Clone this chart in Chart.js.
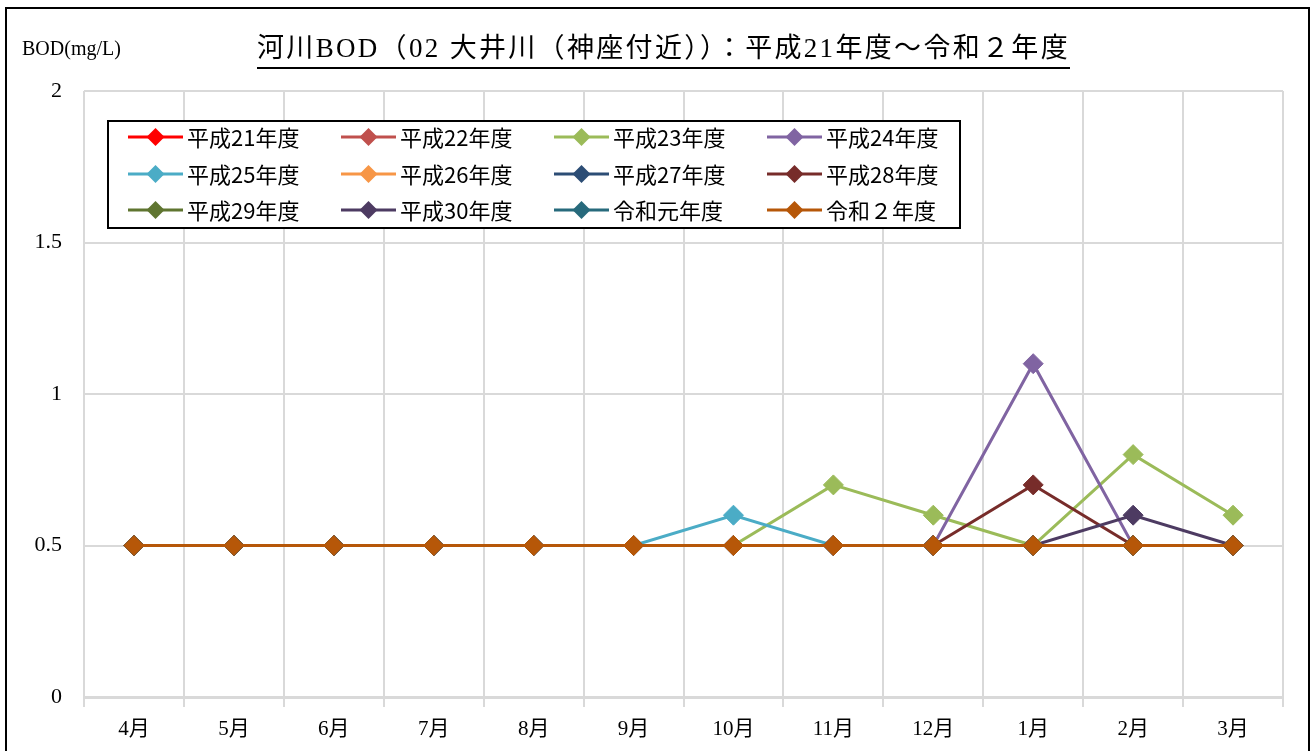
<!DOCTYPE html>
<html><head><meta charset="utf-8">
<script src="https://cdn.jsdelivr.net/npm/chart.js@4"></script>
<style>
html,body{margin:0;padding:0;background:#fff;overflow:hidden;}
#wrap{position:absolute;left:0;top:0;width:1314px;height:751px;}
#frame{position:absolute;left:5px;top:7px;width:1305px;height:800px;border:2px solid #000;box-sizing:border-box;pointer-events:none;}
canvas{position:absolute;left:0;top:0;}
</style></head><body>
<div id="wrap"><canvas id="c" width="1314" height="751"></canvas><div id="frame"></div></div>
<script>
const titleText = '河川BOD（02 大井川（神座付近））：平成21年度～令和２年度';
const yAxisTitle = 'BOD(mg/L)';
const months = ['4月','5月','6月','7月','8月','9月','10月','11月','12月','1月','2月','3月'];
const seriesNames = ['平成21年度','平成22年度','平成23年度','平成24年度','平成25年度','平成26年度','平成27年度','平成28年度','平成29年度','平成30年度','令和元年度','令和２年度'];
const seriesColors = ['#FF0000','#C0504D','#9BBB59','#8064A2','#4BACC6','#F79646','#2C4D75','#772C2A','#5F7530','#4D3B62','#276A7C','#B65708'];
const h21 = [0.5,0.5,0.5,0.5,0.5,0.5,0.5,0.5,0.5,0.5,0.5,0.5];
const h22 = [0.5,0.5,0.5,0.5,0.5,0.5,0.5,0.5,0.5,0.5,0.5,0.5];
const h23 = [0.5,0.5,0.5,0.5,0.5,0.5,0.5,0.7,0.6,0.5,0.8,0.6];
const h24 = [0.5,0.5,0.5,0.5,0.5,0.5,0.5,0.5,0.5,1.1,0.5,0.5];
const h25 = [0.5,0.5,0.5,0.5,0.5,0.5,0.6,0.5,0.5,0.5,0.5,0.5];
const h26 = [0.5,0.5,0.5,0.5,0.5,0.5,0.5,0.5,0.5,0.5,0.5,0.5];
const h27 = [0.5,0.5,0.5,0.5,0.5,0.5,0.5,0.5,0.5,0.5,0.5,0.5];
const h28 = [0.5,0.5,0.5,0.5,0.5,0.5,0.5,0.5,0.5,0.7,0.5,0.5];
const h29 = [0.5,0.5,0.5,0.5,0.5,0.5,0.5,0.5,0.5,0.5,0.5,0.5];
const h30 = [0.5,0.5,0.5,0.5,0.5,0.5,0.5,0.5,0.5,0.5,0.6,0.5];
const r1  = [0.5,0.5,0.5,0.5,0.5,0.5,0.5,0.5,0.5,0.5,0.5,0.5];
const r2  = [0.5,0.5,0.5,0.5,0.5,0.5,0.5,0.5,0.5,0.5,0.5,0.5];
const seriesValues = [h21,h22,h23,h24,h25,h26,h27,h28,h29,h30,r1,r2];
const yMin = 0, yMax = 2, yStep = 0.5;

const serifFont = '"Liberation Serif","DejaVu Serif","Noto Sans CJK JP",serif';
const sansFont = '"Noto Sans CJK JP","Noto Sans",sans-serif';

const datasets = seriesValues.map((vals, i) => ({
  label: seriesNames[i],
  data: vals,
  borderColor: seriesColors[i],
  backgroundColor: seriesColors[i],
  pointBackgroundColor: seriesColors[i],
  pointBorderColor: seriesColors[i],
  borderWidth: 3,
  pointStyle: 'rectRot',
  pointRadius: 10,
  pointBorderWidth: 1,
  tension: 0,
  order: seriesValues.length - i
}));

const decorPlugin = {
  id: 'decor',
  afterDraw(chart) {
    const ctx = chart.ctx;
    ctx.save();
    // title
    ctx.fillStyle = '#000';
    ctx.font = '27px ' + serifFont;
    ctx.textBaseline = 'middle';
    ctx.textAlign = 'left';
    const target = 813;
    const raw = ctx.measureText(titleText).width;
    const n = Array.from(titleText).length;
    const sp = Math.max(0, (target - raw) / n);
    if ('letterSpacing' in ctx) ctx.letterSpacing = sp + 'px';
    const tx0 = 257, ty = 50;
    ctx.fillText(titleText, tx0, ty);
    if ('letterSpacing' in ctx) ctx.letterSpacing = '0px';
    ctx.strokeStyle = '#000';
    ctx.lineWidth = 2;
    ctx.beginPath();
    ctx.moveTo(257, 68);
    ctx.lineTo(257 + target, 68);
    ctx.stroke();
    // y axis title
    ctx.font = '20px ' + serifFont;
    ctx.fillText(yAxisTitle, 22, 50);
    // legend
    const bx = 108, by = 121, bw = 852, bh = 107;
    ctx.fillStyle = '#fff';
    ctx.fillRect(bx, by, bw, bh);
    ctx.strokeStyle = '#000';
    ctx.lineWidth = 2;
    ctx.strokeRect(bx, by, bw, bh);
    const colX = [128, 341, 554, 767];
    const rowY = [137, 174, 210];
    ctx.font = '22px ' + sansFont;
    chart.data.datasets.forEach((ds, i) => {
      const x0 = colX[i % 4], y0 = rowY[Math.floor(i / 4)];
      ctx.strokeStyle = ds.borderColor;
      ctx.lineWidth = 3;
      ctx.beginPath();
      ctx.moveTo(x0, y0);
      ctx.lineTo(x0 + 55, y0);
      ctx.stroke();
      const cx = x0 + 27.5, r = 9;
      ctx.fillStyle = ds.borderColor;
      ctx.beginPath();
      ctx.moveTo(cx - r, y0);
      ctx.lineTo(cx, y0 - r);
      ctx.lineTo(cx + r, y0);
      ctx.lineTo(cx, y0 + r);
      ctx.closePath();
      ctx.fill();
      ctx.fillStyle = '#000';
      ctx.textAlign = 'left';
      ctx.textBaseline = 'middle';
      ctx.fillText(ds.label, x0 + 59, y0 + 1);
    });
    ctx.restore();
  }
};

new Chart(document.getElementById('c'), {
  type: 'line',
  data: { labels: months, datasets },
  options: {
    responsive: false,
    animation: false,
    devicePixelRatio: 1,
    layout: { padding: { top: 91, right: 31, left: 0, bottom: 0 } },
    plugins: { legend: { display: false }, title: { display: false }, tooltip: { enabled: false } },
    events: [],
    scales: {
      x: {
        type: 'category',
        offset: true,
        grid: { offset: true, color: '#d9d9d9', lineWidth: 2, tickLength: 10, drawTicks: true },
        border: { color: '#d9d9d9', width: 3 },
        ticks: { color: '#000', font: { family: serifFont, size: 21 }, padding: 10, maxRotation: 0 },
        afterFit(s) { s.height = 54; }
      },
      y: {
        min: yMin, max: yMax,
        grid: { color: '#d9d9d9', lineWidth: 2, drawTicks: false },
        border: { display: false },
        ticks: { stepSize: yStep, color: '#000', font: { family: serifFont, size: 22 }, padding: 22,
          callback: (v) => String(v) },
        afterFit(s) { s.width = 84; }
      }
    }
  },
  plugins: [decorPlugin]
});
</script>
</body></html>
